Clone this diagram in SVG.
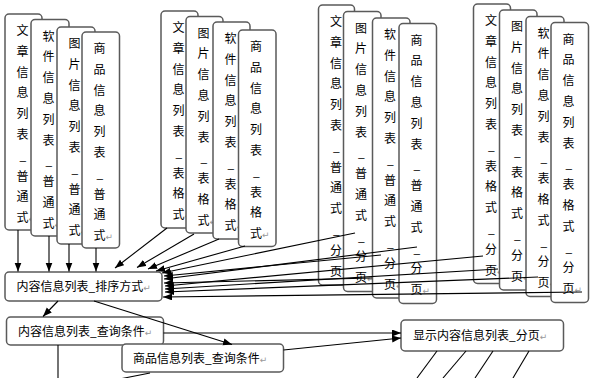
<svg xmlns="http://www.w3.org/2000/svg" width="592" height="378" viewBox="0 0 592 378">
<style>
.box{fill:#fff;stroke:#5a5a5a;stroke-width:1.5}
.t{font-family:"Noto Sans CJK SC","DejaVu Sans",sans-serif;font-size:12px;fill:#000}
.r{font-family:"DejaVu Sans",sans-serif;font-size:9px;fill:#999}
.ln{stroke:#000;stroke-width:1.1;fill:none}
.ar{stroke:#000;stroke-width:1.1;fill:none;marker-end:url(#ah)}
</style>
<defs>
<marker id="ah" markerUnits="userSpaceOnUse" markerWidth="10" markerHeight="8" refX="9" refY="3.5" orient="auto">
<path d="M0,0 L9,3.5 L0,7 z" fill="#000"/>
</marker>
</defs>
<rect width="592" height="378" fill="#fff"/>

<g id="n-a"><rect class="box" x="5" y="14" width="37" height="216" rx="4"/>
<text class="t"><tspan x="16.5" y="35">文</tspan><tspan x="16.5" y="55.8">章</tspan><tspan x="16.5" y="76.6">信</tspan><tspan x="16.5" y="97.4">息</tspan><tspan x="16.5" y="118.2">列</tspan><tspan x="16.5" y="139">表</tspan><tspan x="19.5" y="159.8">_</tspan><tspan x="16.5" y="180.6">普</tspan><tspan x="16.5" y="201.4">通</tspan><tspan x="16.5" y="222.2">式</tspan><tspan class="r">↵</tspan></text></g>
<g id="n-b"><rect class="box" x="31" y="19.5" width="38" height="216.5" rx="4"/>
<text class="t"><tspan x="42.5" y="40.5">软</tspan><tspan x="42.5" y="61.3">件</tspan><tspan x="42.5" y="82.1">信</tspan><tspan x="42.5" y="102.9">息</tspan><tspan x="42.5" y="123.7">列</tspan><tspan x="42.5" y="144.5">表</tspan><tspan x="45.5" y="165.3">_</tspan><tspan x="42.5" y="186.1">普</tspan><tspan x="42.5" y="206.9">通</tspan><tspan x="42.5" y="227.7">式</tspan><tspan class="r">↵</tspan></text></g>
<g id="n-c"><rect class="box" x="57" y="27" width="38" height="217" rx="4"/>
<text class="t"><tspan x="68.5" y="48">图</tspan><tspan x="68.5" y="68.8">片</tspan><tspan x="68.5" y="89.6">信</tspan><tspan x="68.5" y="110.4">息</tspan><tspan x="68.5" y="131.2">列</tspan><tspan x="68.5" y="152">表</tspan><tspan x="71.5" y="172.8">_</tspan><tspan x="68.5" y="193.6">普</tspan><tspan x="68.5" y="214.4">通</tspan><tspan x="68.5" y="235.2">式</tspan><tspan class="r">↵</tspan></text></g>
<g id="n-d"><rect class="box" x="82" y="32" width="37.5" height="216" rx="4"/>
<text class="t"><tspan x="93.5" y="53">商</tspan><tspan x="93.5" y="73.8">品</tspan><tspan x="93.5" y="94.6">信</tspan><tspan x="93.5" y="115.4">息</tspan><tspan x="93.5" y="136.2">列</tspan><tspan x="93.5" y="157">表</tspan><tspan x="96.5" y="177.8">_</tspan><tspan x="93.5" y="198.6">普</tspan><tspan x="93.5" y="219.4">通</tspan><tspan x="93.5" y="240.2">式</tspan><tspan class="r">↵</tspan></text></g>

<g id="n-e"><rect class="box" x="161" y="11" width="37" height="217" rx="4"/>
<text class="t"><tspan x="172.5" y="32">文</tspan><tspan x="172.5" y="52.8">章</tspan><tspan x="172.5" y="73.6">信</tspan><tspan x="172.5" y="94.4">息</tspan><tspan x="172.5" y="115.2">列</tspan><tspan x="172.5" y="136">表</tspan><tspan x="175.5" y="156.8">_</tspan><tspan x="172.5" y="177.6">表</tspan><tspan x="172.5" y="198.4">格</tspan><tspan x="172.5" y="219.2">式</tspan><tspan class="r">↵</tspan></text></g>
<g id="n-f"><rect class="box" x="186" y="16.5" width="37" height="216.5" rx="4"/>
<text class="t"><tspan x="197.5" y="37.5">图</tspan><tspan x="197.5" y="58.3">片</tspan><tspan x="197.5" y="79.1">信</tspan><tspan x="197.5" y="99.9">息</tspan><tspan x="197.5" y="120.7">列</tspan><tspan x="197.5" y="141.5">表</tspan><tspan x="200.5" y="162.3">_</tspan><tspan x="197.5" y="183.1">表</tspan><tspan x="197.5" y="203.9">格</tspan><tspan x="197.5" y="224.7">式</tspan><tspan class="r">↵</tspan></text></g>
<g id="n-g"><rect class="box" x="213" y="22" width="37" height="217" rx="4"/>
<text class="t"><tspan x="224.5" y="43">软</tspan><tspan x="224.5" y="63.8">件</tspan><tspan x="224.5" y="84.6">信</tspan><tspan x="224.5" y="105.4">息</tspan><tspan x="224.5" y="126.2">列</tspan><tspan x="224.5" y="147">表</tspan><tspan x="227.5" y="167.8">_</tspan><tspan x="224.5" y="188.6">表</tspan><tspan x="224.5" y="209.4">格</tspan><tspan x="224.5" y="230.2">式</tspan><tspan class="r">↵</tspan></text></g>
<g id="n-h"><rect class="box" x="238.5" y="30" width="37.5" height="216.5" rx="4"/>
<text class="t"><tspan x="250" y="51">商</tspan><tspan x="250" y="71.8">品</tspan><tspan x="250" y="92.6">信</tspan><tspan x="250" y="113.4">息</tspan><tspan x="250" y="134.2">列</tspan><tspan x="250" y="155">表</tspan><tspan x="253" y="175.8">_</tspan><tspan x="250" y="196.6">表</tspan><tspan x="250" y="217.4">格</tspan><tspan x="250" y="238.2">式</tspan><tspan class="r">↵</tspan></text></g>

<g id="n-i"><rect class="box" x="318.5" y="5" width="36" height="280" rx="4"/>
<text class="t"><tspan x="330" y="26">文</tspan><tspan x="330" y="46.8">章</tspan><tspan x="330" y="67.6">信</tspan><tspan x="330" y="88.4">息</tspan><tspan x="330" y="109.2">列</tspan><tspan x="330" y="130">表</tspan><tspan x="333" y="150.8">_</tspan><tspan x="330" y="171.6">普</tspan><tspan x="330" y="192.4">通</tspan><tspan x="330" y="213.2">式</tspan><tspan x="333" y="234">_</tspan><tspan x="330" y="254.8">分</tspan><tspan x="330" y="275.6">页</tspan><tspan class="r">↵</tspan></text></g>
<g id="n-j"><rect class="box" x="343.5" y="11.5" width="37.5" height="280" rx="4"/>
<text class="t"><tspan x="355" y="32.5">图</tspan><tspan x="355" y="53.3">片</tspan><tspan x="355" y="74.1">信</tspan><tspan x="355" y="94.9">息</tspan><tspan x="355" y="115.7">列</tspan><tspan x="355" y="136.5">表</tspan><tspan x="358" y="157.3">_</tspan><tspan x="355" y="178.1">普</tspan><tspan x="355" y="198.9">通</tspan><tspan x="355" y="219.7">式</tspan><tspan x="358" y="240.5">_</tspan><tspan x="355" y="261.3">分</tspan><tspan x="355" y="282.1">页</tspan><tspan class="r">↵</tspan></text></g>
<g id="n-k"><rect class="box" x="372.5" y="18" width="37.5" height="280" rx="4"/>
<text class="t"><tspan x="384" y="39">软</tspan><tspan x="384" y="59.8">件</tspan><tspan x="384" y="80.6">信</tspan><tspan x="384" y="101.4">息</tspan><tspan x="384" y="122.2">列</tspan><tspan x="384" y="143">表</tspan><tspan x="387" y="163.8">_</tspan><tspan x="384" y="184.6">普</tspan><tspan x="384" y="205.4">通</tspan><tspan x="384" y="226.2">式</tspan><tspan x="387" y="247">_</tspan><tspan x="384" y="267.8">分</tspan><tspan x="384" y="288.6">页</tspan><tspan class="r">↵</tspan></text></g>
<g id="n-l"><rect class="box" x="399" y="23.5" width="37.5" height="280" rx="4"/>
<text class="t"><tspan x="410.5" y="44.5">商</tspan><tspan x="410.5" y="65.3">品</tspan><tspan x="410.5" y="86.1">信</tspan><tspan x="410.5" y="106.9">息</tspan><tspan x="410.5" y="127.7">列</tspan><tspan x="410.5" y="148.5">表</tspan><tspan x="413.5" y="169.3">_</tspan><tspan x="410.5" y="190.1">普</tspan><tspan x="410.5" y="210.9">通</tspan><tspan x="410.5" y="231.7">式</tspan><tspan x="413.5" y="252.5">_</tspan><tspan x="410.5" y="273.3">分</tspan><tspan x="410.5" y="294.1">页</tspan><tspan class="r">↵</tspan></text></g>

<g id="n-m"><rect class="box" x="473.5" y="4" width="37" height="279.5" rx="4"/>
<text class="t"><tspan x="485" y="25">文</tspan><tspan x="485" y="45.8">章</tspan><tspan x="485" y="66.6">信</tspan><tspan x="485" y="87.4">息</tspan><tspan x="485" y="108.2">列</tspan><tspan x="485" y="129">表</tspan><tspan x="488" y="149.8">_</tspan><tspan x="485" y="170.6">表</tspan><tspan x="485" y="191.4">格</tspan><tspan x="485" y="212.2">式</tspan><tspan x="488" y="233">_</tspan><tspan x="485" y="253.8">分</tspan><tspan x="485" y="274.6">页</tspan><tspan class="r">↵</tspan></text></g>
<g id="n-n"><rect class="box" x="499.5" y="10" width="37.5" height="280" rx="4"/>
<text class="t"><tspan x="511" y="31">图</tspan><tspan x="511" y="51.8">片</tspan><tspan x="511" y="72.6">信</tspan><tspan x="511" y="93.4">息</tspan><tspan x="511" y="114.2">列</tspan><tspan x="511" y="135">表</tspan><tspan x="514" y="155.8">_</tspan><tspan x="511" y="176.6">表</tspan><tspan x="511" y="197.4">格</tspan><tspan x="511" y="218.2">式</tspan><tspan x="514" y="239">_</tspan><tspan x="511" y="259.8">分</tspan><tspan x="511" y="280.6">页</tspan><tspan class="r">↵</tspan></text></g>
<g id="n-o"><rect class="box" x="526" y="16.5" width="38" height="280" rx="4"/>
<text class="t"><tspan x="537.5" y="37.5">软</tspan><tspan x="537.5" y="58.3">件</tspan><tspan x="537.5" y="79.1">信</tspan><tspan x="537.5" y="99.9">息</tspan><tspan x="537.5" y="120.7">列</tspan><tspan x="537.5" y="141.5">表</tspan><tspan x="540.5" y="162.3">_</tspan><tspan x="537.5" y="183.1">表</tspan><tspan x="537.5" y="203.9">格</tspan><tspan x="537.5" y="224.7">式</tspan><tspan x="540.5" y="245.5">_</tspan><tspan x="537.5" y="266.3">分</tspan><tspan x="537.5" y="287.1">页</tspan><tspan class="r">↵</tspan></text></g>
<g id="n-p"><rect class="box" x="551" y="22.5" width="37.5" height="280" rx="4"/>
<text class="t"><tspan x="562.5" y="43.5">商</tspan><tspan x="562.5" y="64.3">品</tspan><tspan x="562.5" y="85.1">信</tspan><tspan x="562.5" y="105.9">息</tspan><tspan x="562.5" y="126.7">列</tspan><tspan x="562.5" y="147.5">表</tspan><tspan x="565.5" y="168.3">_</tspan><tspan x="562.5" y="189.1">表</tspan><tspan x="562.5" y="209.9">格</tspan><tspan x="562.5" y="230.7">式</tspan><tspan x="565.5" y="251.5">_</tspan><tspan x="562.5" y="272.3">分</tspan><tspan x="562.5" y="293.1">页</tspan><tspan class="r">↵</tspan></text></g>

<g id="n-sort"><rect class="box" x="5" y="272" width="157" height="29" rx="4"/>
<text class="t" x="16.5" y="291">内容信息列表_排序方式<tspan class="r">↵</tspan></text></g>
<g id="n-query"><rect class="box" x="6.5" y="317" width="157" height="28" rx="4"/>
<text class="t" x="18" y="336">内容信息列表_查询条件<tspan class="r">↵</tspan></text></g>
<g id="n-goodsquery"><rect class="box" x="122" y="344" width="161.5" height="28" rx="4"/>
<text class="t" x="133" y="363">商品信息列表_查询条件<tspan class="r">↵</tspan></text></g>
<g id="n-page"><rect class="box" x="401" y="320" width="162.5" height="31" rx="4"/>
<text class="t" x="413" y="340">显示内容信息列表_分页<tspan class="r">↵</tspan></text></g>

<g id="connectors">
<line class="ar" x1="18" y1="230" x2="18" y2="271.5"/>
<line class="ar" x1="49" y1="236" x2="49" y2="271.5"/>
<line class="ar" x1="69" y1="244" x2="69" y2="271.5"/>
<line class="ar" x1="96" y1="248" x2="96" y2="271.5"/>
<line class="ar" x1="167" y1="228" x2="115" y2="268"/>
<line class="ar" x1="194" y1="234" x2="137" y2="267.5"/>
<line class="ar" x1="219" y1="239" x2="148" y2="269"/>
<line class="ar" x1="245" y1="246" x2="156" y2="271"/>
<line class="ar" x1="355" y1="233" x2="162" y2="273"/>
<line class="ar" x1="381" y1="255" x2="164" y2="276"/>
<line class="ar" x1="417" y1="247" x2="164" y2="279"/>
<line class="ar" x1="372" y1="278" x2="164" y2="283"/>
<line class="ar" x1="483" y1="256" x2="165" y2="286"/>
<line class="ar" x1="498" y1="269" x2="165" y2="289"/>
<line class="ar" x1="538" y1="277" x2="165" y2="292"/>
<line class="ar" x1="582" y1="292" x2="163" y2="297"/>
<line class="ar" x1="58" y1="301" x2="43" y2="316.5"/>
<line class="ar" x1="94" y1="301" x2="232" y2="344.5"/>
<line class="ar" x1="163.5" y1="333" x2="401" y2="333"/>
<line class="ar" x1="283.5" y1="350" x2="401" y2="338"/>
<line class="ln" x1="58" y1="345" x2="58" y2="378"/>
<line class="ln" x1="122" y1="378.5" x2="150" y2="373"/>
<line class="ln" x1="437" y1="351" x2="417" y2="378"/>
<line class="ln" x1="466" y1="351" x2="443" y2="378"/>
<line class="ln" x1="493" y1="351" x2="475" y2="378"/>
<line class="ln" x1="529" y1="351" x2="513" y2="378"/>
</g>
</svg>
